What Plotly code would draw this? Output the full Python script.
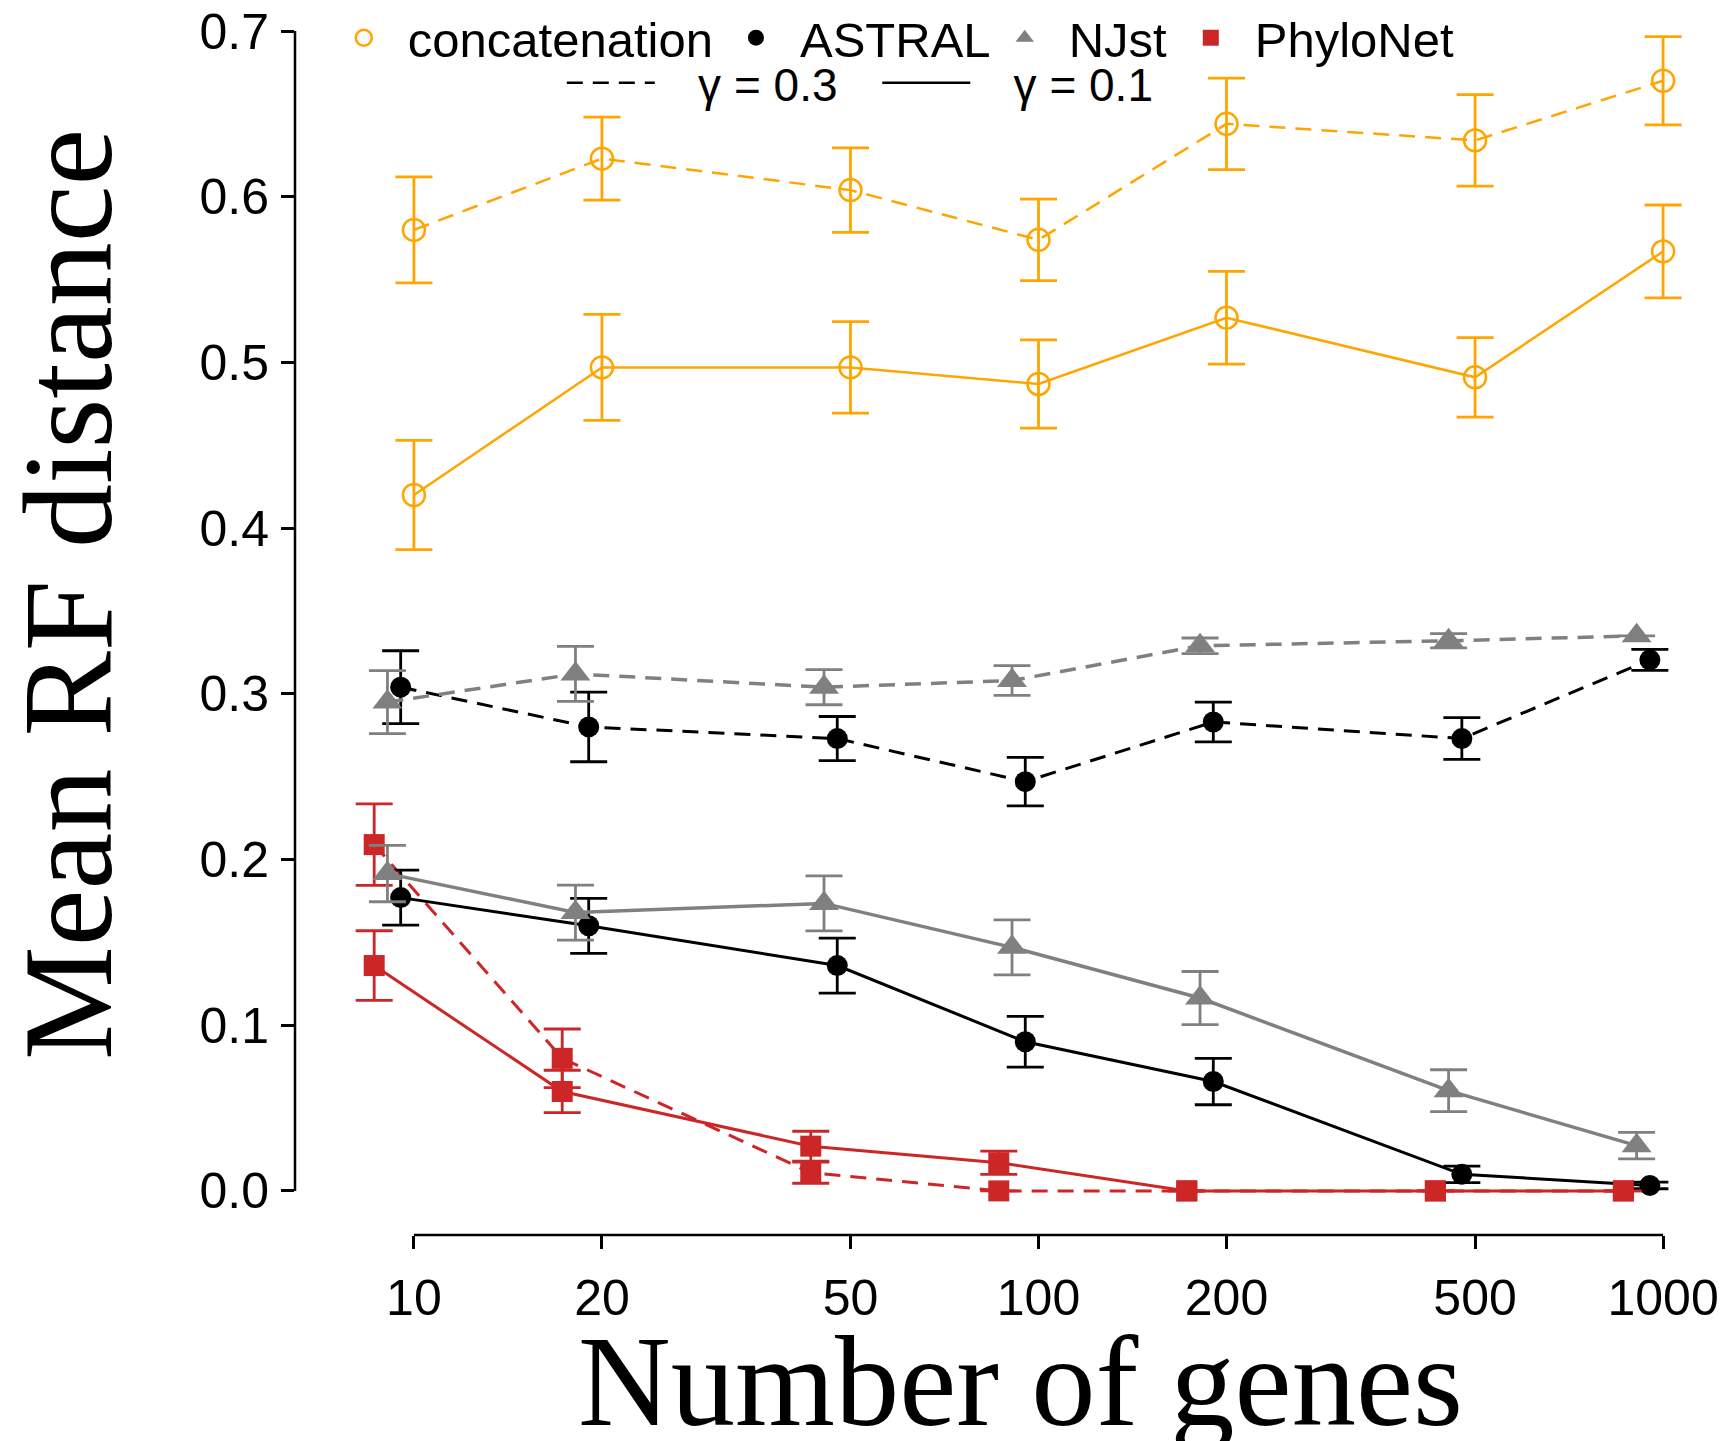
import plotly.graph_objects as go

# ---------------- data ----------------
genes = [10, 20, 50, 100, 200, 500, 1000]
gene_labels = ["10", "20", "50", "100", "200", "500", "1000"]
y_ticks = [0.0, 0.1, 0.2, 0.3, 0.4, 0.5, 0.6, 0.7]
y_labels = ["0.0", "0.1", "0.2", "0.3", "0.4", "0.5", "0.6", "0.7"]

methods = ["concatenation", "ASTRAL", "NJst", "PhyloNet"]

# gamma = 0.3 (dashed)
concat_g03 = [0.580, 0.623, 0.604, 0.574, 0.644, 0.634, 0.670]
concat_g03_err = [0.032, 0.025, 0.0255, 0.0246, 0.0276, 0.0276, 0.0266]
astral_g03 = [0.304, 0.280, 0.273, 0.247, 0.283, 0.273, 0.3205]
astral_g03_err = [0.022, 0.021, 0.0133, 0.0146, 0.012, 0.0126, 0.0063]
njst_g03 = [0.295, 0.312, 0.304, 0.308, 0.329, 0.332, 0.335]
njst_g03_err = [0.019, 0.0166, 0.0106, 0.009, 0.0047, 0.0043, None]
phylonet_g03 = [0.209, 0.080, 0.011, 0.0, 0.0, 0.0, 0.0]
phylonet_g03_err = [0.0246, 0.0177, 0.0064, None, None, None, None]

# gamma = 0.1 (solid)
concat_g01 = [0.420, 0.497, 0.497, 0.487, 0.527, 0.491, 0.567]
concat_g01_err = [0.033, 0.032, 0.0276, 0.0266, 0.028, 0.024, 0.028]
astral_g01 = [0.177, 0.160, 0.136, 0.090, 0.066, 0.010, 0.0033]
astral_g01_err = [0.0166, 0.0166, 0.0166, 0.0153, 0.014, 0.005, 0.002]
njst_g01 = [0.1915, 0.168, 0.1735, 0.147, 0.1164, 0.0605, 0.0273]
njst_g01_err = [0.017, 0.0166, 0.0166, 0.0166, 0.016, 0.0126, 0.008]
phylonet_g01 = [0.136, 0.060, 0.027, 0.017, 0.0, 0.0, 0.0]
phylonet_g01_err = [0.021, 0.0128, 0.009, 0.007, None, None, None]

# ---------------- styles ----------------
colors = {"concatenation": "#FFA500", "ASTRAL": "#000000",
          "NJst": "#808080", "PhyloNet": "#CD2626"}
symbols = {"concatenation": "circle-open", "ASTRAL": "circle",
           "NJst": "triangle-up", "PhyloNet": "square"}
sizes = {"concatenation": 22, "ASTRAL": 21, "NJst": 26, "PhyloNet": 21}
widths = {"concatenation": 2.5, "ASTRAL": 3, "NJst": 3.5, "PhyloNet": 3}
dodge = {"concatenation": 0, "ASTRAL": 1, "NJst": 2, "PhyloNet": 3}
DODGE_STEP = 0.0212  # decades per method
DASH = "16px,10px"
TITLE_FONT = "Liberation Serif, Times New Roman, serif"

series = {
    ("concatenation", 0.3): (concat_g03, concat_g03_err),
    ("ASTRAL", 0.3): (astral_g03, astral_g03_err),
    ("NJst", 0.3): (njst_g03, njst_g03_err),
    ("PhyloNet", 0.3): (phylonet_g03, phylonet_g03_err),
    ("concatenation", 0.1): (concat_g01, concat_g01_err),
    ("ASTRAL", 0.1): (astral_g01, astral_g01_err),
    ("NJst", 0.1): (njst_g01, njst_g01_err),
    ("PhyloNet", 0.1): (phylonet_g01, phylonet_g01_err),
}

fig = go.Figure()
for (m, g), (vals, errs) in series.items():
    xs = [v * 10 ** (-dodge[m] * DODGE_STEP) for v in genes]
    fig.add_trace(go.Scatter(
        x=xs, y=vals, mode="lines+markers", showlegend=False,
        name=f"{m} γ={g}",
        line=dict(color=colors[m], width=widths[m],
                  dash=DASH if g == 0.3 else "solid"),
        marker=dict(symbol=symbols[m], size=sizes[m], color=colors[m],
                    line=dict(width=2.5 if m == "concatenation" else 0,
                              color=colors[m])),
        error_y=dict(type="data", array=errs, symmetric=True,
                     color=colors[m], thickness=2.8, width=18.5),
        cliponaxis=False,
    ))

NB = "\u00a0"
# legend entries: one legend per method so each entry sits where the reference has it
method_legend = {"concatenation": "legend", "ASTRAL": "legend3",
                 "NJst": "legend4", "PhyloNet": "legend5"}
method_legend_x = {"concatenation": 0.01732, "ASTRAL": 0.29118,
                   "NJst": 0.47886, "PhyloNet": 0.60880}
for m in methods:
    fig.add_trace(go.Scatter(
        x=[None], y=[None], mode="markers", name=m, legend=method_legend[m],
        marker=dict(symbol=symbols[m], size=sizes[m], color=colors[m],
                    line=dict(width=2.5 if m == "concatenation" else 0,
                              color=colors[m])),
    ))
# legend entries: gamma line types
gamma_names = {0.3: NB * 3 + "γ = 0.3" + NB * 2 + "\u2009", 0.1: NB * 3 + "γ = 0.1"}
for g, d in [(0.3, DASH), (0.1, "solid")]:
    fig.add_trace(go.Scatter(
        x=[None], y=[None], mode="lines", name=gamma_names[g],
        legend="legend2", line=dict(color="black", width=2.5, dash=d),
    ))

W, H = 1719, 1433
ML, MB = 287.2, 206.3


def method_leg(x):
    return dict(orientation="h", x=x, y=0.9757, xanchor="left",
                yanchor="middle", itemwidth=78, bgcolor="rgba(0,0,0,0)",
                font=dict(size=49), itemclick=False, itemdoubleclick=False)


fig.update_layout(
    width=W, height=H,
    margin=dict(l=ML, r=0, t=0, b=MB, pad=0, autoexpand=False),
    plot_bgcolor="white", paper_bgcolor="white",
    font=dict(family="Liberation Sans, Arial, Helvetica, sans-serif",
              size=48, color="black"),
    xaxis=dict(
        type="log", range=[0.8096, 3.1023],
        tickvals=genes, ticktext=gene_labels,
        ticks="outside", ticklen=13, tickwidth=2.5, tickcolor="black",
        showline=False, showgrid=False, zeroline=False,
        tickfont=dict(size=50), ticklabelstandoff=6,
        ticklabeloverflow="allow",
    ),
    yaxis=dict(
        range=[-0.02662, 0.71391],
        tickvals=y_ticks, ticktext=y_labels,
        ticks="outside", ticklen=13, tickwidth=2.5, tickcolor="black",
        showline=False, showgrid=False, zeroline=False,
        tickfont=dict(size=50), ticklabelstandoff=2,
        ticklabeloverflow="allow",
    ),
    annotations=[
        dict(text="Mean RF distance", textangle=-90, showarrow=False,
             xref="paper", yref="paper", x=-0.1585, y=0.5216,
             xanchor="center", yanchor="middle",
             font=dict(family=TITLE_FONT, size=128, color="black")),
        dict(text="Number of genes", showarrow=False,
             xref="paper", yref="paper", x=0.5066, y=-0.0595,
             xanchor="center", yanchor="top",
             font=dict(family=TITLE_FONT, size=128.5, color="black")),
    ],
    legend=method_leg(method_legend_x["concatenation"]),
    legend3=method_leg(method_legend_x["ASTRAL"]),
    legend4=method_leg(method_legend_x["NJst"]),
    legend5=method_leg(method_legend_x["PhyloNet"]),
    legend2=dict(orientation="h", x=0.1863, y=0.9389, xanchor="left",
                 yanchor="middle", itemwidth=88, bgcolor="rgba(0,0,0,0)",
                 font=dict(size=46), itemclick=False, itemdoubleclick=False),
    shapes=[
        dict(type="line", xref="x", yref="paper", x0=genes[0], x1=genes[-1],
             y0=0, y1=0, line=dict(color="black", width=2.5)),
        dict(type="line", xref="paper", yref="y", x0=0, x1=0,
             y0=y_ticks[0], y1=y_ticks[-1], line=dict(color="black", width=2.5)),
    ],
)

fig.write_html("out.html")
